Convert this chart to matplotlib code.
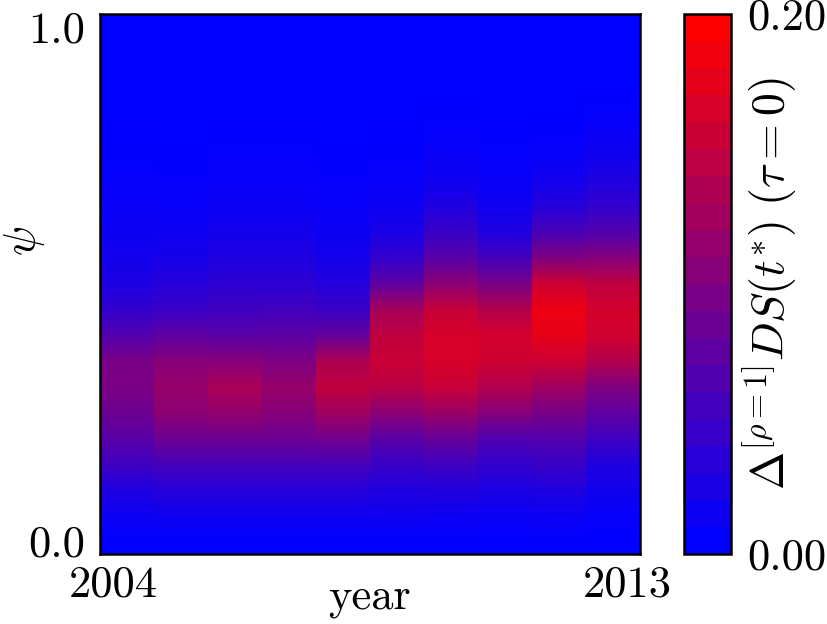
import numpy as np
import matplotlib
matplotlib.use("Agg")
import matplotlib.pyplot as plt
from matplotlib.colors import LinearSegmentedColormap, Normalize
from matplotlib.cm import ScalarMappable

plt.rcParams["font.family"] = "serif"
plt.rcParams["font.serif"] = ["cmr10"]
plt.rcParams["mathtext.fontset"] = "cm"
plt.rcParams["axes.formatter.use_mathtext"] = True

years = [2004, 2005, 2006, 2007, 2008, 2009, 2010, 2011, 2012, 2013]
psi = [0.0, 0.05, 0.1, 0.15, 0.2, 0.25, 0.3, 0.35, 0.4, 0.45, 0.5,
       0.55, 0.6, 0.65, 0.7, 0.75, 0.8, 0.85, 0.9, 0.95, 1.0]

# Delta DS per year (columns) along psi (rows, bottom to top)
ds_2004 = [0.0, 0.010, 0.024, 0.050, 0.070, 0.085, 0.097, 0.095, 0.065, 0.040, 0.022,
           0.015, 0.010, 0.007, 0.004, 0.002, 0.001, 0.0, 0.0, 0.0, 0.0]
ds_2005 = [0.0, 0.012, 0.030, 0.055, 0.086, 0.110, 0.118, 0.105, 0.075, 0.045, 0.030,
           0.018, 0.010, 0.006, 0.003, 0.001, 0.0, 0.0, 0.0, 0.0, 0.0]
ds_2006 = [0.0, 0.012, 0.030, 0.055, 0.086, 0.115, 0.133, 0.105, 0.070, 0.050, 0.035,
           0.024, 0.015, 0.009, 0.005, 0.003, 0.001, 0.0, 0.0, 0.0, 0.0]
ds_2007 = [0.0, 0.012, 0.030, 0.055, 0.086, 0.105, 0.118, 0.098, 0.072, 0.052, 0.035,
           0.024, 0.015, 0.009, 0.005, 0.003, 0.001, 0.0, 0.0, 0.0, 0.0]
ds_2008 = [0.0, 0.012, 0.030, 0.055, 0.090, 0.125, 0.150, 0.135, 0.080, 0.045, 0.028,
           0.016, 0.010, 0.006, 0.003, 0.001, 0.0, 0.0, 0.0, 0.0, 0.0]
ds_2009 = [0.0, 0.012, 0.025, 0.045, 0.070, 0.110, 0.145, 0.157, 0.150, 0.130, 0.075,
           0.040, 0.020, 0.010, 0.005, 0.002, 0.001, 0.0, 0.0, 0.0, 0.0]
ds_2010 = [0.0, 0.010, 0.027, 0.050, 0.080, 0.120, 0.155, 0.168, 0.168, 0.155, 0.110,
           0.070, 0.045, 0.025, 0.012, 0.006, 0.003, 0.001, 0.0, 0.0, 0.0]
ds_2011 = [0.0, 0.008, 0.022, 0.040, 0.063, 0.105, 0.140, 0.160, 0.165, 0.140, 0.095,
           0.055, 0.025, 0.012, 0.006, 0.003, 0.001, 0.0, 0.0, 0.0, 0.0]
ds_2012 = [0.0, 0.010, 0.025, 0.045, 0.066, 0.094, 0.125, 0.160, 0.180, 0.186, 0.160,
           0.100, 0.058, 0.030, 0.015, 0.005, 0.002, 0.0, 0.0, 0.0, 0.0]
ds_2013 = [0.0, 0.005, 0.014, 0.025, 0.050, 0.075, 0.100, 0.140, 0.163, 0.165, 0.150,
           0.105, 0.065, 0.040, 0.025, 0.013, 0.006, 0.002, 0.0, 0.0, 0.0]

columns = [ds_2004, ds_2005, ds_2006, ds_2007, ds_2008,
           ds_2009, ds_2010, ds_2011, ds_2012, ds_2013]

vmin, vmax = 0.0, 0.20
cmap = LinearSegmentedColormap.from_list("br", [(0, 0, 1), (1, 0, 0)], N=256)
cmap_bar = LinearSegmentedColormap.from_list("br20", [(0, 0, 1), (1, 0, 0)], N=20)

fig = plt.figure(figsize=(8.28, 6.24), dpi=100)
ax = fig.add_axes([100 / 828, 70 / 624, 540 / 828, 540 / 624])
cax = fig.add_axes([684 / 828, 70 / 624, 47 / 828, 540 / 624])

dpsi = psi[1] - psi[0]
for yr, col in zip(years, columns):
    z = np.array(col).reshape(-1, 1)
    ax.imshow(z, origin="lower", aspect="auto", interpolation="bilinear",
              cmap=cmap, vmin=vmin, vmax=vmax,
              extent=(yr - 0.5, yr + 0.5, psi[0] - dpsi / 2, psi[-1] + dpsi / 2))

ax.set_xlim(years[0] - 0.5, years[-1] + 0.5)
ax.set_ylim(psi[0] - dpsi / 2, psi[-1] + dpsi / 2)
ax.set_xticks([years[0] - 0.26, years[-1] + 0.26])
ax.set_xticklabels([str(years[0]), str(years[-1])])
ax.set_yticks([psi[0], psi[-1]])
ax.set_yticklabels(["0.0", "1.0"])
ax.tick_params(axis="both", length=0, labelsize=32)
ax.tick_params(axis="x", pad=8)
ax.tick_params(axis="y", pad=11)
for s in ax.spines.values():
    s.set_linewidth(1.8)

ax.set_xlabel("year", fontsize=32)
ax.xaxis.set_label_coords(0.5, -0.045)
ax.set_ylabel(r"$\psi$", fontsize=32)
ax.yaxis.set_label_coords(-0.098, 0.58)

sm = ScalarMappable(norm=Normalize(vmin, vmax), cmap=cmap_bar)
cb = fig.colorbar(sm, cax=cax, ticks=[0.0, 0.2])
cb.ax.set_yticklabels(["0.00", "0.20"])
cb.ax.tick_params(length=0, labelsize=32, pad=12)
cb.outline.set_linewidth(1.8)
cax.text(1.83, 0.5, r"$\Delta^{[\rho=1]}DS(t^{*})\ (\tau=0)$",
         transform=cax.transAxes, rotation=90, ha="center", va="center",
         fontsize=33)

fig.savefig("out.png", dpi=100)
